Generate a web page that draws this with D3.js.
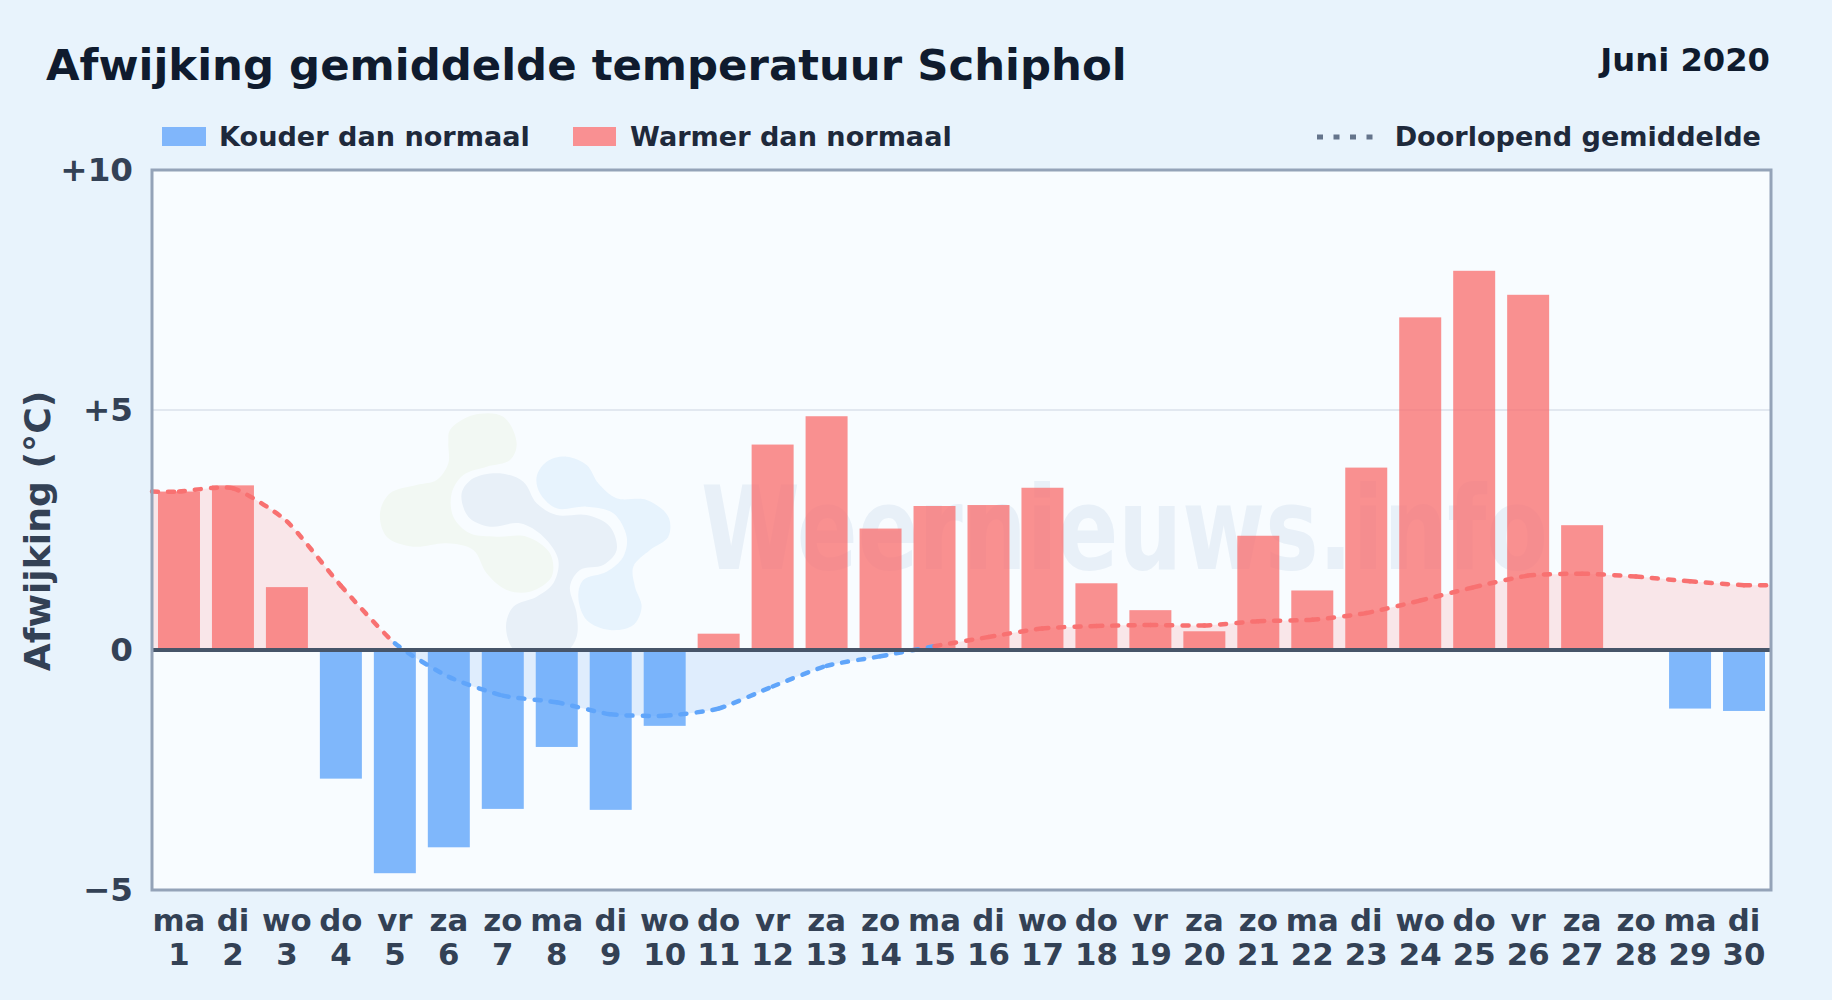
<!DOCTYPE html>
<html lang="nl">
<head>
<meta charset="UTF-8">
<title>Afwijking gemiddelde temperatuur Schiphol</title>
<script src="https://d3js.org/d3.v7.min.js"></script>
<style>
  html, body { margin: 0; padding: 0; background: #e8f3fc; }
  svg { display: block; }
  text { font-family: "DejaVu Sans", sans-serif; font-weight: bold; }
</style>
</head>
<body>
<svg id="chart" width="1832" height="1000"></svg>
<script>
var weekdays = ["ma","di","wo","do","vr","za","zo","ma","di","wo","do","vr","za","zo","ma","di","wo","do","vr","za","zo","ma","di","wo","do","vr","za","zo","ma","di"];
var days = d3.range(1, 31);
var deviation = [3.30,3.43,1.31,-2.68,-4.65,-4.11,-3.31,-2.02,-3.33,-1.58,0.34,4.28,4.87,2.53,3.00,3.02,3.38,1.39,0.83,0.39,2.38,1.24,3.80,6.93,7.90,7.40,2.60,0,-1.22,-1.27];
var running = [3.30,3.37,2.68,1.34,0.14,-0.56,-0.95,-1.09,-1.34,-1.37,-1.22,-0.76,-0.33,-0.13,0.08,0.27,0.45,0.50,0.52,0.51,0.60,0.63,0.77,1.03,1.31,1.55,1.59,1.53,1.43,1.35];
var yTicks = [-5, 0, 5, 10];
var yTickLabels = ["\u22125", "0", "+5", "+10"];

var margin = {top: 170, right: 61, bottom: 110, left: 152},
    width = 1832 - margin.left - margin.right,
    height = 1000 - margin.top - margin.bottom;

var svg = d3.select("#chart");
var defs = svg.append("defs");

var x = d3.scaleBand().domain(days).range([0, width]).paddingInner(0.222).paddingOuter(0.111);
var xDay = d3.scaleLinear().domain([0.5, 30.5]).range([0, width]);
var y = d3.scaleLinear().domain([-5, 10]).range([height, 0]);

// title row
svg.append("text").attr("x", 46).attr("y", 80).attr("font-size", 43.4)
    .attr("fill", "#0f1b2e").text("Afwijking gemiddelde temperatuur Schiphol");
svg.append("text").attr("x", 1770).attr("y", 71).attr("text-anchor", "end").attr("font-size", 32.2)
    .attr("fill", "#0f1b2e").text("Juni 2020");

// legend
var legend = svg.append("g").attr("font-size", 27.1).attr("fill", "#1e293b");
legend.append("rect").attr("x", 162).attr("y", 127).attr("width", 44).attr("height", 19).attr("fill", "#80b6fb");
legend.append("text").attr("x", 219).attr("y", 146).text("Kouder dan normaal");
legend.append("rect").attr("x", 573).attr("y", 127).attr("width", 43).attr("height", 19).attr("fill", "#f99092");
legend.append("text").attr("x", 630).attr("y", 146).text("Warmer dan normaal");
legend.append("line").attr("x1", 1317).attr("x2", 1373).attr("y1", 137).attr("y2", 137)
    .attr("stroke", "#64748b").attr("stroke-width", 5).attr("stroke-dasharray", "6,10.5");
legend.append("text").attr("x", 1761).attr("y", 146).attr("text-anchor", "end").text("Doorlopend gemiddelde");

var g = svg.append("g").attr("transform", "translate(" + margin.left + "," + margin.top + ")");
g.append("rect").attr("width", width).attr("height", height).attr("fill", "#f8fcff");

// grid
g.append("line").attr("x1", 0).attr("x2", width).attr("y1", y(5)).attr("y2", y(5))
    .attr("stroke", "#e2e8f0").attr("stroke-width", 2);

// watermark logo, traced in a 3x crop of the reference
var logoGreen = [[330,150],[400,105],[490,110],[530,190],[510,240],[440,260],[370,285],[335,340],[340,410],[390,460],[470,470],[560,470],[630,520],[635,590],[570,635],[500,630],[440,580],[400,510],[320,490],[220,500],[140,470],[120,400],[150,340],[230,315],[290,300],[325,250],[325,190]];
var logoGrey = [[365,340],[400,295],[480,280],[550,305],[590,370],[650,405],[740,405],[810,440],[830,510],[790,555],[720,570],[690,620],[710,700],[710,770],[680,815],[600,835],[525,815],[498,740],[520,680],[590,650],[640,610],[655,540],[610,470],[540,430],[450,440],[385,410]];
var logoBlue = [[590,290],[620,245],[680,230],[740,255],[775,310],[830,355],[920,360],[985,410],[985,470],[930,510],[880,560],[885,620],[905,680],[880,735],[810,750],[740,720],[715,650],[730,600],[800,575],[850,530],[860,470],[820,400],[740,380],[650,385],[600,340]];
var logoLine = d3.line().curve(d3.curveCatmullRomClosed);
var mark = g.append("g").attr("transform", "translate(" + (340 - margin.left) + "," + (380 - margin.top) + ") scale(0.3333)");
mark.append("path").attr("d", logoLine(logoGreen)).attr("fill", "#f2f8f3");
mark.append("path").attr("d", logoLine(logoGrey)).attr("fill", "#e8f0f8");
mark.append("path").attr("d", logoLine(logoBlue)).attr("fill", "#e7f3fd");

g.append("text").attr("x", 701 - margin.left).attr("y", 569 - margin.top)
    .attr("font-size", 115).attr("fill", "#e8f0f8")
    .attr("textLength", 847).attr("lengthAdjust", "spacingAndGlyphs").text("Weernieuws.info");

// running mean runs on to both plot edges
var runPoints = [{day: 0.5, value: running[0]}]
    .concat(days.map(function (d, i) { return {day: d, value: running[i]}; }))
    .concat([{day: 30.5, value: running[running.length - 1]}]);

var curve = d3.curveCardinal.tension(0.4);
var area = d3.area().curve(curve)
    .x(function (d) { return xDay(d.day); })
    .y0(y(0)).y1(function (d) { return y(d.value); });
var line = d3.line().curve(curve)
    .x(function (d) { return xDay(d.day); })
    .y(function (d) { return y(d.value); });

defs.append("clipPath").attr("id", "clip-pos").append("rect").attr("width", width).attr("height", y(0));
defs.append("clipPath").attr("id", "clip-neg").append("rect").attr("y", y(0)).attr("width", width).attr("height", height - y(0));

g.append("path").datum(runPoints).attr("d", area).attr("fill", "#f9e6e9").attr("clip-path", "url(#clip-pos)");
g.append("path").datum(runPoints).attr("d", area).attr("fill", "#dfedfd").attr("clip-path", "url(#clip-neg)");

// bars
g.selectAll("rect.bar").data(days.filter(function (d) { return deviation[d - 1] !== 0; })).enter().append("rect")
    .attr("class", "bar")
    .attr("x", function (d) { return x(d); })
    .attr("width", x.bandwidth())
    .attr("y", function (d) { return y(Math.max(deviation[d - 1], 0)); })
    .attr("height", function (d) { return Math.abs(y(deviation[d - 1]) - y(0)); })
    .attr("fill", function (d) { return deviation[d - 1] > 0 ? "#f87171" : "#60a5fa"; })
    .attr("fill-opacity", function (d) { return deviation[d - 1] > 0 ? 0.78 : 0.8; });

// running mean, one path per day so the dash pattern restarts each segment
var beziers = line(runPoints).split("C");
var start = beziers[0];
var segments = beziers.slice(1).map(function (b, i) {
    var d = start + "C" + b;
    start = "M" + b.split(",").slice(-2).join(",");
    return {d: d, low: Math.min(runPoints[i].value, runPoints[i + 1].value)};
});
g.selectAll("path.run").data(segments).enter().append("path")
    .attr("class", "run")
    .attr("d", function (d) { return d.d; })
    .attr("fill", "none")
    .attr("stroke", function (d) { return d.low < 0 ? "#60a5fa" : "#f87171"; })
    .attr("stroke-width", 4.5)
    .attr("stroke-linecap", "round")
    .attr("stroke-dasharray", "6,10");

// zero line and frame
g.append("line").attr("x1", 0).attr("x2", width).attr("y1", y(0)).attr("y2", y(0))
    .attr("stroke", "#475569").attr("stroke-width", 4);
g.append("rect").attr("width", width).attr("height", height).attr("fill", "none")
    .attr("stroke", "#94a3b8").attr("stroke-width", 3);

// axes
var yAxis = g.append("g").call(d3.axisLeft(y).tickValues(yTicks).tickSize(0).tickPadding(19)
    .tickFormat(function (d, i) { return yTickLabels[i]; }));
yAxis.select(".domain").remove();
yAxis.selectAll("text").attr("font-size", 32.6).attr("fill", "#334155")
    .style("font-family", '"DejaVu Sans", sans-serif').style("font-weight", "bold");

var xLabels = g.append("g").attr("font-size", 30.8).attr("fill", "#334155").attr("text-anchor", "middle");
xLabels.selectAll("text.wd").data(weekdays).enter().append("text").attr("class", "wd")
    .attr("x", function (d, i) { return x(days[i]) + x.bandwidth() / 2; })
    .attr("y", height + 41).text(function (d) { return d; });
xLabels.selectAll("text.dn").data(days).enter().append("text").attr("class", "dn")
    .attr("x", function (d) { return x(d) + x.bandwidth() / 2; })
    .attr("y", height + 75).text(function (d) { return d; });

svg.append("text").attr("transform", "translate(50,531) rotate(-90)").attr("text-anchor", "middle")
    .attr("font-size", 36.2).attr("fill", "#334155").text("Afwijking (\u00B0C)");
</script>
</body>
</html>
